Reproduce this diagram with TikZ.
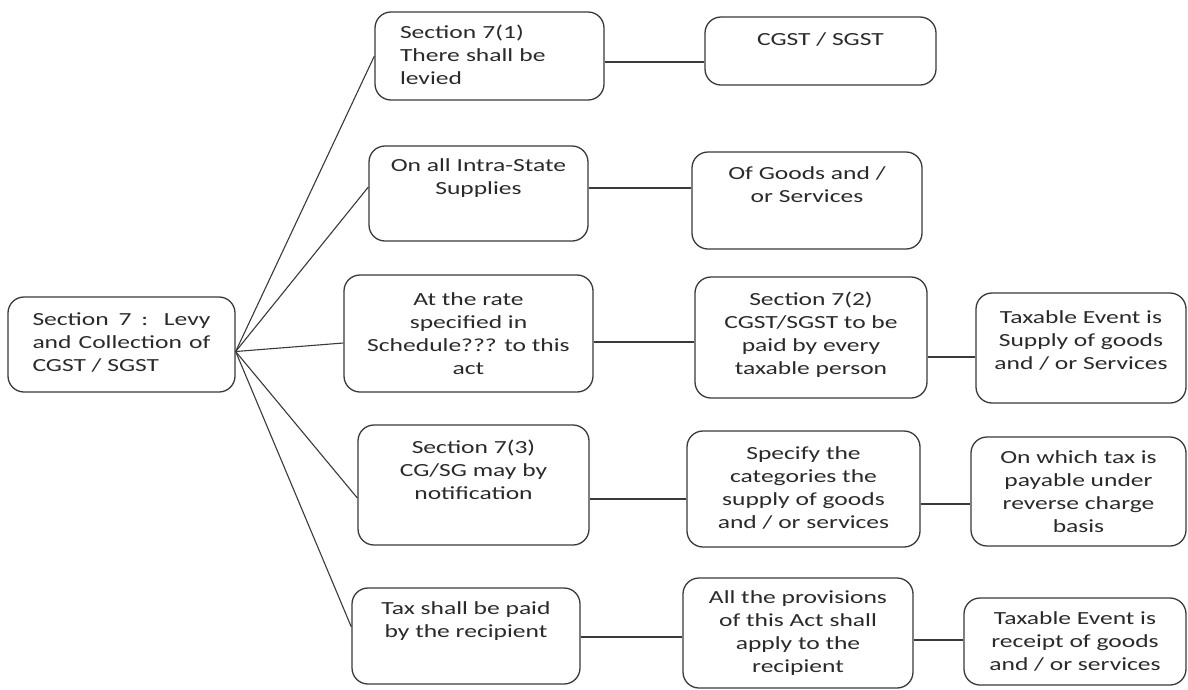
\documentclass[tikz,border=0pt]{standalone}
\usepackage{fontspec}
\setmainfont{Carlito}[FakeStretch=1.38]
\definecolor{boxgray}{HTML}{3A3A3A}
\definecolor{inkgray}{HTML}{2A2A2A}
\begin{document}
\begin{tikzpicture}[x=1pt,y=-1pt,
  box/.style={draw=boxgray, line width=1.3pt, rounded corners=16pt, inner sep=0pt},
  lbl/.style={font=\fontsize{18.5}{23}\selectfont, text=inkgray, align=center, inner sep=0pt},
  link/.style={draw=boxgray, line width=1.1pt}]

% canvas
\fill[white] (0,0) rectangle (1188,689);
\useasboundingbox (0,0) rectangle (1188,689);

% root
\node[box, minimum width=227pt, minimum height=95pt,
  label={[lbl, text width=178pt, align=justify, yshift=2pt]center:Section 7 : Levy\linebreak and Collection of\linebreak CGST / SGST}]
  (root) at (121.5,344.5) {};

% first column
\node[box, minimum width=229pt, minimum height=88pt,
  label={[lbl, text width=179pt, align=left, yshift=1pt]center:Section 7(1)\\There shall be\\levied}]
  (b1) at (489.5,56) {};
\node[box, minimum width=219pt, minimum height=95pt,
  label={[lbl, yshift=15.5pt]center:On all Intra-State\\Supplies}]
  (b2) at (478.5,193.5) {};
\node[box, minimum width=249pt, minimum height=117pt,
  label={[lbl]center:At the rate\\specified in\\Schedule??? to this\\act}]
  (b3) at (468.5,333.5) {};
\node[box, minimum width=231pt, minimum height=120pt,
  label={[lbl, yshift=15pt]center:Section 7(3)\\CG/SG may by\\notification}]
  (b4) at (473.5,485) {};
\node[box, minimum width=228pt, minimum height=96pt,
  label={[lbl, yshift=15pt]center:Tax shall be paid\\by the recipient}]
  (b5) at (466,636) {};

% second column
\node[box, minimum width=231pt, minimum height=68pt,
  label={[lbl, yshift=12pt]center:CGST / SGST}]
  (c1) at (820.5,51) {};
\node[box, minimum width=230pt, minimum height=97pt,
  label={[lbl, yshift=15.5pt]center:Of Goods and /\\or Services}]
  (c2) at (807,200.5) {};
\node[box, minimum width=232pt, minimum height=121pt,
  label={[lbl, yshift=2.5pt]center:Section 7(2)\\CGST/SGST to be\\paid by every\\taxable person}]
  (c3) at (811,337.5) {};
\node[box, minimum width=233pt, minimum height=116pt,
  label={[lbl, yshift=1pt]center:Specify the\\categories the\\supply of goods\\and / or services}]
  (c4) at (803.5,489) {};
\node[box, minimum width=230pt, minimum height=110pt,
  label={[lbl]center:All the provisions\\of this Act shall\\apply to the\\recipient}]
  (c5) at (798,633) {};

% third column
\node[box, minimum width=210pt, minimum height=110pt,
  label={[lbl, yshift=8pt]center:Taxable Event is\\Supply of goods\\and / or Services}]
  (d3) at (1081,348) {};
\node[box, minimum width=215pt, minimum height=109pt,
  label={[lbl]center:On which tax is\\payable under\\reverse charge\\basis}]
  (d4) at (1078.5,491.5) {};
\node[box, minimum width=222pt, minimum height=87pt,
  label={[lbl]center:Taxable Event is\\receipt of goods\\and / or services}]
  (d5) at (1075,641.5) {};

% fan from the root to the first column
\coordinate (hub) at ([yshift=-7pt]root.east);
\draw[link] (hub) -- (b1.west);
\draw[link] (hub) -- ([yshift=6.5pt]b2.west);
\draw[link] (hub) -- ([yshift=-9.5pt]b3.west);
\draw[link] (hub) -- ([yshift=-13pt]b4.west);
\draw[link] (hub) -- ([yshift=9pt]b5.west);

% horizontal links
\draw[link] ([yshift=-6pt]b1.east) -- ([yshift=-6pt]b1.east -| c1.west);
\draw[link] ([yshift=5.5pt]b2.east) -- ([yshift=5.5pt]b2.east -| c2.west);
\draw[link] ([yshift=-8.5pt]b3.east) -- ([yshift=-8.5pt]b3.east -| c3.west);
\draw[link] ([yshift=-19.5pt]c3.east) -- ([yshift=-19.5pt]c3.east -| d3.west);
\draw[link] ([yshift=-14pt]b4.east) -- ([yshift=-14pt]b4.east -| c4.west);
\draw[link] ([yshift=-15pt]c4.east) -- ([yshift=-15pt]c4.east -| d4.west);
\draw[link] ([yshift=-1pt]b5.east) -- ([yshift=-1pt]b5.east -| c5.west);
\draw[link] ([yshift=-7pt]c5.east) -- ([yshift=-7pt]c5.east -| d5.west);
\end{tikzpicture}
\end{document}
